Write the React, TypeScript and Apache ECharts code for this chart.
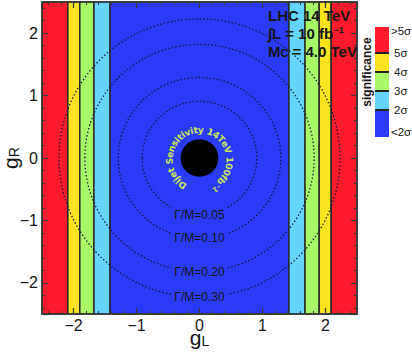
import React, { useEffect, useRef } from 'react';
import * as echarts from 'echarts';

// ---- data ----
const axisMin = -2.5;
const axisMax = 2.5;
// significance regions: <2σ, 2-3σ, 3-4σ, 4-5σ, >5σ
const sigColors = ['#2b3bf5', '#66d5fd', '#a7f766', '#fae422', '#fe1b2c'];
const sigLegendLabels = ['<2σ', '2σ', '3σ', '4σ', '5σ', '>5σ'];
// |g_L| at which the significance reaches 2σ, 3σ, 4σ, 5σ
const sigBoundaries = [1.42, 1.675, 1.9, 2.09];
// width contours Γ/M and their radii in the (g_L, g_R) plane
const widthLabels = ['Γ/M=0.05', 'Γ/M=0.10', 'Γ/M=0.20', 'Γ/M=0.30'];
const widthRadii = [0.91, 1.29, 1.82, 2.23];
// dijet-excluded disc: centre g_L, centre g_R, radius
const dijetDisc = [0, 0, 0.3];
const arcTextMain = 'Dijet Sensitivity 14TeV 100fb';
const arcTextSup = '-1';
const axisTickValues = [-2, -1, 0, 1, 2];

const FONT = '"Liberation Sans", Arial, sans-serif';
const NARROW = '"Liberation Sans Narrow", "Liberation Sans", Arial, sans-serif';
const INK = '#151515';
const FRAME = '#3a3a3a';

const bandEdges = [axisMin, ...sigBoundaries.slice().reverse().map((v) => -v), ...sigBoundaries, axisMax];
const bandLevels = [4, 3, 2, 1, 0, 1, 2, 3, 4];
const bandData = bandLevels.map((lv, i) => [bandEdges[i], bandEdges[i + 1], lv]);
const circleData = widthRadii.map((r, i) => [0, 0, r, i]);

let measureCtx: CanvasRenderingContext2D | null = null;
function measure(t: string, font: string) {
  if (!measureCtx) measureCtx = document.createElement('canvas').getContext('2d');
  measureCtx!.font = font;
  return measureCtx!.measureText(t).width;
}

const fmt = (v: number) => {
  if (!axisTickValues.includes(Math.round(v * 1000) / 1000)) return '';
  return v < 0 ? '\u2212' + Math.abs(v) : String(v);
};

export default function App() {
  const ref = useRef<HTMLDivElement>(null);
  useEffect(() => {
    const chart = echarts.init(ref.current!, null, { renderer: 'svg' });
    const axisCommon: any = {
      type: 'value',
      min: axisMin,
      max: axisMax,
      splitNumber: 5,
      z: 10,
      axisLine: { show: true, onZero: false, lineStyle: { color: FRAME, width: 1.5 } },
      axisTick: { show: true, inside: true, length: 6, lineStyle: { color: FRAME, width: 1.2 } },
      minorTick: { show: true, splitNumber: 5, length: 3, lineStyle: { color: FRAME, width: 1 } },
      splitLine: { show: false },
      minorSplitLine: { show: false },
    };
    const labelStyle = { show: true, formatter: fmt, fontSize: 16, fontFamily: FONT, color: INK };
    const nameRich = {
      g: { fontSize: 21, fontFamily: FONT, color: INK },
      s: { fontSize: 14, fontFamily: FONT, color: INK, verticalAlign: 'bottom', padding: [7, 0, 0, 0] },
    };

    const legendX = 375;
    const legendW = 14;
    const legendTop = 27;
    const segH = [27, 19, 19, 19, 26]; // heights for levels 0..4
    const legendChildren: any[] = [];
    let yb = legendTop + segH.reduce((a, b) => a + b, 0);
    const boundaryYs: number[] = [];
    segH.forEach((h, lv) => {
      legendChildren.push({
        type: 'rect',
        shape: { x: legendX, y: yb - h, width: legendW, height: h },
        style: { fill: sigColors[lv] },
      });
      yb -= h;
      if (lv < segH.length - 1) boundaryYs.push(yb);
    });
    boundaryYs.forEach((y) => {
      legendChildren.push({
        type: 'line',
        shape: { x1: legendX, y1: y, x2: legendX + legendW, y2: y },
        style: { stroke: '#222', lineWidth: 2 },
      });
    });
    const legendBottom = legendTop + segH.reduce((a, b) => a + b, 0);
    sigLegendLabels.forEach((t, i) => {
      let y: number;
      let x = legendX + legendW + 2;
      if (i === 0) y = legendBottom - 5;
      else if (i === sigLegendLabels.length - 1) y = legendTop + 4;
      else {
        y = boundaryYs[i - 1];
        x += 3;
      }
      legendChildren.push({
        type: 'text',
        x,
        y,
        style: { text: t, font: `11.5px ${FONT}`, fill: INK, verticalAlign: 'middle', align: 'left' },
      });
    });
    legendChildren.push({
      type: 'text',
      x: 367,
      y: 72,
      rotation: Math.PI / 2,
      style: { text: 'significance', font: `bold 12px ${FONT}`, fill: INK, align: 'center', verticalAlign: 'middle' },
    });

    const infoFont = `bold 15px ${NARROW}`;
    const option: any = {
      animation: false,
      grid: { left: 42, top: 2, width: 315, height: 312, containLabel: false, outerBoundsMode: 'none' },
      xAxis: [
        {
          ...axisCommon,
          position: 'bottom',
          axisLabel: { ...labelStyle, margin: 3 },
          name: '{g|g}{s|L}',
          nameLocation: 'middle',
          nameGap: 13,
          nameMoveOverlap: false,
          nameTextStyle: { rich: nameRich },
        },
        { ...axisCommon, position: 'top', axisLabel: { show: false } },
      ],
      yAxis: [
        {
          ...axisCommon,
          position: 'left',
          axisLabel: { ...labelStyle, margin: 4 },
          name: '{g|g}{s|R}',
          nameLocation: 'middle',
          nameRotate: 90,
          nameGap: 21,
          nameMoveOverlap: false,
          nameTextStyle: { rich: nameRich },
        },
        { ...axisCommon, position: 'right', axisLabel: { show: false } },
      ],
      graphic: [
        {
          type: 'group',
          z: 100,
          children: [
            { type: 'text', z: 100, x: 268, y: 15, style: { text: 'LHC 14 TeV', font: infoFont, fill: INK, verticalAlign: 'middle' } },
            {
              type: 'text',
              z: 100,
              x: 268,
              y: 33,
              style: {
                text: '∫L = 10 fb{sup|\u22121}',
                font: infoFont,
                fill: INK,
                verticalAlign: 'middle',
                rich: { sup: { fontSize: 9, fontWeight: 'bold', fontFamily: NARROW, fill: INK, verticalAlign: 'top' } },
              },
            },
            {
              type: 'text',
              z: 100,
              x: 268,
              y: 51,
              style: {
                text: 'M{sub|C} = 4.0 TeV',
                font: infoFont,
                fill: INK,
                verticalAlign: 'middle',
                rich: { sub: { fontSize: 11, fontWeight: 'bold', fontFamily: NARROW, fill: INK, verticalAlign: 'bottom' } },
              },
            },
          ],
        },
        { type: 'group', children: legendChildren },
      ],
      series: [
        {
          type: 'custom',
          name: 'significance',
          xAxisIndex: 0,
          yAxisIndex: 0,
          dimensions: ['x0', 'x1', 'level'],
          encode: { x: [0, 1], y: 2 },
          data: bandData,
          renderItem: (params: any, api: any) => {
            const p0 = api.coord([api.value(0), axisMax]);
            const p1 = api.coord([api.value(1), axisMin]);
            return {
              type: 'rect',
              shape: { x: p0[0], y: p0[1], width: p1[0] - p0[0], height: p1[1] - p0[1] },
              style: { fill: sigColors[api.value(2)], stroke: '#2a2a2a', lineWidth: 1.5 },
            };
          },
          z: 1,
        },
        {
          type: 'custom',
          name: 'width',
          xAxisIndex: 0,
          yAxisIndex: 0,
          encode: { x: 0, y: 1 },
          data: circleData,
          renderItem: (params: any, api: any) => {
            const c = api.coord([api.value(0), api.value(1)]);
            const r = api.value(2);
            const sz = api.size([r, r]);
            const idx = api.value(3);
            return {
              type: 'group',
              children: [
                {
                  type: 'ellipse',
                  shape: { cx: c[0], cy: c[1], rx: sz[0], ry: sz[1] },
                  style: { fill: 'none', stroke: '#14143a', lineWidth: 1.3, lineDash: [1.4, 2.2] },
                },
                {
                  type: 'text',
                  x: c[0],
                  y: c[1] + sz[1],
                  style: {
                    text: widthLabels[idx],
                    font: `12px ${FONT}`,
                    fill: INK,
                    align: 'center',
                    verticalAlign: 'middle',
                    backgroundColor: sigColors[0],
                    padding: [1, 3],
                  },
                },
              ],
            };
          },
          z: 2,
        },
        {
          type: 'custom',
          name: 'dijet',
          xAxisIndex: 0,
          yAxisIndex: 0,
          encode: { x: 0, y: 1 },
          data: [dijetDisc],
          renderItem: (params: any, api: any) => {
            const c = api.coord([api.value(0), api.value(1)]);
            const sz = api.size([api.value(2), api.value(2)]);
            const children: any[] = [
              { type: 'ellipse', shape: { cx: c[0], cy: c[1], rx: sz[0], ry: sz[1] }, style: { fill: '#000' } },
            ];
            const R = 30;
            const cy = c[1] + 2;
            const spacing = 0.2;
            const mainFont = `bold 9px "DejaVu Sans", sans-serif`;
            const supFont = `bold 7px "DejaVu Sans", sans-serif`;
            const glyphs = [...arcTextMain]
              .map((ch) => ({ ch, font: mainFont, w: measure(ch, mainFont) + spacing, dr: 0 }))
              .concat([...arcTextSup].map((ch) => ({ ch, font: supFont, w: measure(ch, supFont) + spacing, dr: 3 })));
            const total = glyphs.reduce((a, g) => a + g.w, 0);
            const centerAngle = (88 * Math.PI) / 180;
            let s = 0;
            glyphs.forEach((g) => {
              const mid = s + g.w / 2;
              const th = centerAngle + (total / 2 - mid) / R;
              const rr = R + g.dr;
              children.push({
                type: 'text',
                x: c[0] + rr * Math.cos(th),
                y: cy - rr * Math.sin(th),
                rotation: th - Math.PI / 2,
                style: { text: g.ch, font: g.font, fill: '#c9e65b', align: 'center', verticalAlign: 'middle' },
              });
              s += g.w;
            });
            return { type: 'group', children };
          },
          z: 3,
        },
      ],
    };
    chart.setOption(option);
    return () => chart.dispose();
  }, []);
  return <div ref={ref} style={{ position: 'absolute', left: 0, top: 0, width: 412, height: 354 }} />;
}
